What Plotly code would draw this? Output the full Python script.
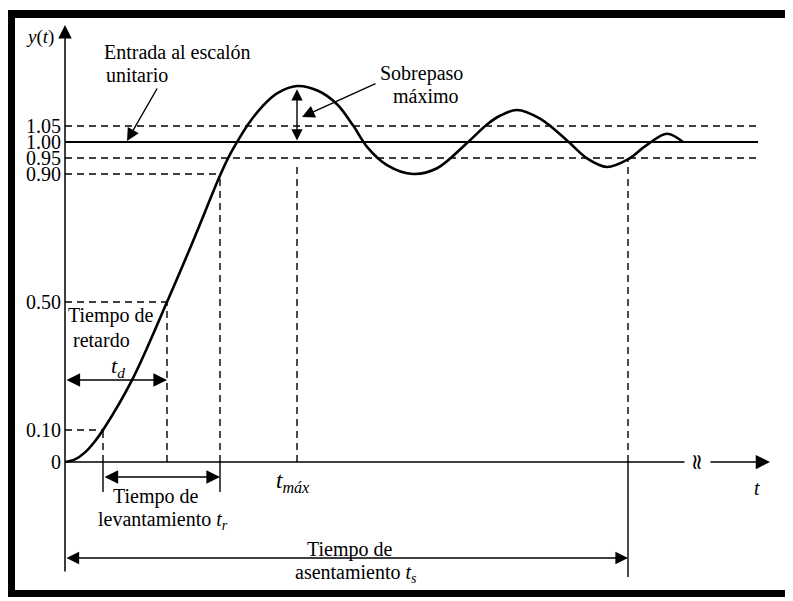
import plotly.graph_objects as go

# ---------------- data ----------------
# step response y(t); t in arbitrary time units
T_RESP = [0.00, 0.10, 0.20, 0.30, 0.38, 0.67, 1.02, 1.28, 1.55, 1.64, 1.73, 1.83,
          1.97, 2.12, 2.32, 2.53, 2.72, 2.88, 3.02, 3.22, 3.48, 3.72, 4.02, 4.22,
          4.35, 4.52, 4.75, 5.02, 5.22, 5.42, 5.62, 5.82, 6.02, 6.18]
Y_RESP = [0.000, 0.008, 0.030, 0.065, 0.100, 0.256, 0.500, 0.690, 0.895, 0.955, 1.005, 1.055,
          1.110, 1.152, 1.175, 1.160, 1.118, 1.052, 0.985, 0.928, 0.900, 0.918, 0.997, 1.055,
          1.082, 1.100, 1.073, 1.005, 0.949, 0.922, 0.944, 0.991, 1.026, 1.000]

LEVEL_VALUES = [0, 0.10, 0.50, 0.90, 0.95, 1.00, 1.05]
LEVEL_LABELS = ["0", "0.10", "0.50", "0.90", "0.95", "1.00", "1.05"]

T_10 = 0.38     # y = 0.10
T_D = 1.02      # delay time (y = 0.5)
T_90 = 1.55     # y = 0.90
T_MAX = 2.32    # peak time
Y_MAX = 1.175   # peak value
T_S = 5.63      # settling time
T_BAND_END = 6.93
T_AXIS_END = 7.05

# ---------------- layout helpers (screen pixel -> axis units) ----------------
OFF = 8                      # default page margin around the plot div
W, H = 793 - OFF, 601 - OFF  # figure size
def X(px):
    return (px - 65) / 100.0
def Y(py):
    return (462 - py) / 320.0

SERIF = "Liberation Serif, Times New Roman, serif"
BLACK = "#000000"

fig = go.Figure()

fig.add_trace(go.Scatter(
    x=T_RESP, y=Y_RESP, mode="lines",
    line=dict(color=BLACK, width=2.6, shape="spline", smoothing=1.0),
    hoverinfo="skip", showlegend=False))

shapes = []
def hline(y, x0, x1, dash=None, width=1.4):
    shapes.append(dict(type="line", xref="x", yref="y", x0=x0, x1=x1, y0=y, y1=y,
                       line=dict(color=BLACK, width=width, dash=dash)))
def vline(x, y0, y1, dash=None, width=1.4):
    shapes.append(dict(type="line", xref="x", yref="y", x0=x, x1=x, y0=y0, y1=y1,
                       line=dict(color=BLACK, width=width, dash=dash)))

DASH = "7px,5px"
hline(1.05, 0, T_BAND_END, DASH)
hline(1.00, 0, T_BAND_END, None, 1.8)
hline(0.95, 0, T_BAND_END, DASH)
hline(0.90, 0, T_90, DASH)
hline(0.50, 0, T_D, DASH)
hline(0.10, 0, T_10, DASH)

vline(T_10, 0, 0.10, DASH)
vline(T_D, 0, 0.50, DASH)
vline(T_90, 0, 0.90, DASH)
vline(T_MAX, 0, 0.935, DASH)
vline(T_S, 0, 0.95, DASH)

vline(T_10, 0, Y(492))
vline(T_90, 0, Y(492))
vline(T_S, 0, Y(577))

# frame (scanned page border), given in screen pixels
def prect(x0, y0, x1, y1):
    shapes.append(dict(type="rect", xref="paper", yref="paper",
                       x0=(x0 - OFF) / W, x1=(x1 - OFF) / W,
                       y0=1 - (y1 - OFF) / H, y1=1 - (y0 - OFF) / H,
                       fillcolor=BLACK, line=dict(width=0)))
prect(7, 10, 15, 597)
prect(7, 10, 800, 18)
prect(7, 590, 800, 597)

ann = []
def arrow(x, y, ax, ay, both=False, head=2, size=1.8, width=1.4):
    d = dict(x=x, y=y, ax=ax, ay=ay, xref="x", yref="y", axref="x", ayref="y",
             text="", showarrow=True, arrowhead=head, arrowsize=size,
             arrowwidth=width, arrowcolor=BLACK, standoff=0, startstandoff=0)
    if both:
        d["arrowside"] = "end+start"
        d["startarrowhead"] = head
        d["startarrowsize"] = size
    ann.append(d)

def text(s, px, py, anchor="center", size=20):
    ann.append(dict(x=X(px), y=Y(py), xref="x", yref="y", text=s, showarrow=False,
                    xanchor=anchor, yanchor="middle",
                    font=dict(family=SERIF, size=size, color=BLACK)))

# axes arrows
arrow(0, Y(25), 0, Y(573), size=1.8, width=1.5)
arrow(T_AXIS_END, 0, 0, 0, size=1.9, width=1.5)

# dimension arrows
arrow(T_D, Y(380), 0, Y(380), both=True, size=1.7, width=1.6)
arrow(T_90, Y(477), T_10, Y(477), both=True, size=1.7, width=1.6)
arrow(T_S, Y(558), 0, Y(558), both=True, size=1.8, width=1.4)
arrow(T_MAX, Y_MAX - 0.01, T_MAX, 1.0, both=True, size=1.6, width=1.4)

# pointer arrows
arrow(X(127), Y(141), X(158), Y(87), size=1.8, width=1.4)
arrow(X(302), Y(117), X(377), Y(83), size=1.8, width=1.4)

# texts
text("<i>y</i>(<i>t</i>)", 40, 37, size=19)
text("Entrada al escalón", 102, 52, anchor="left")
text("unitario", 104, 75, anchor="left")
text("Sobrepaso", 421, 73)
text("máximo", 426, 96)
text("Tiempo de", 111, 315)
text("retardo", 101, 340)
text("<i>t<sub>d</sub></i>", 118, 367, size=22)
text("Tiempo de", 156, 496)
text("levantamiento <i>t<sub>r</sub></i>", 163, 520)
text("<i>t<sub>máx</sub></i>", 293, 482, size=23)
text("Tiempo de", 350, 549)
text("asentamiento <i>t<sub>s</sub></i>", 356, 573)
text("<i>t</i>", 757, 488)
# axis break mark
ann.append(dict(x=X(698), y=0, xref="x", yref="y", text="≈", showarrow=False,
                textangle=90,
                font=dict(family="DejaVu Sans", size=22, color=BLACK),
                bgcolor="white", borderpad=0))

fig.update_layout(
    width=W, height=H, margin=dict(l=0, r=0, t=0, b=0),
    paper_bgcolor="white", plot_bgcolor="white",
    shapes=shapes, annotations=ann, showlegend=False,
    xaxis=dict(range=[X(OFF), X(OFF + W)], visible=False, domain=[0, 1]),
    yaxis=dict(range=[Y(OFF + H), Y(OFF)], anchor="free", position=(65 - OFF) / W,
               tickvals=LEVEL_VALUES, ticktext=LEVEL_LABELS,
               tickfont=dict(family=SERIF, size=20, color=BLACK),
               showgrid=False, zeroline=False, showline=False,
               ticks="", ticklabelstandoff=4),
)

fig.write_html("out.html")
